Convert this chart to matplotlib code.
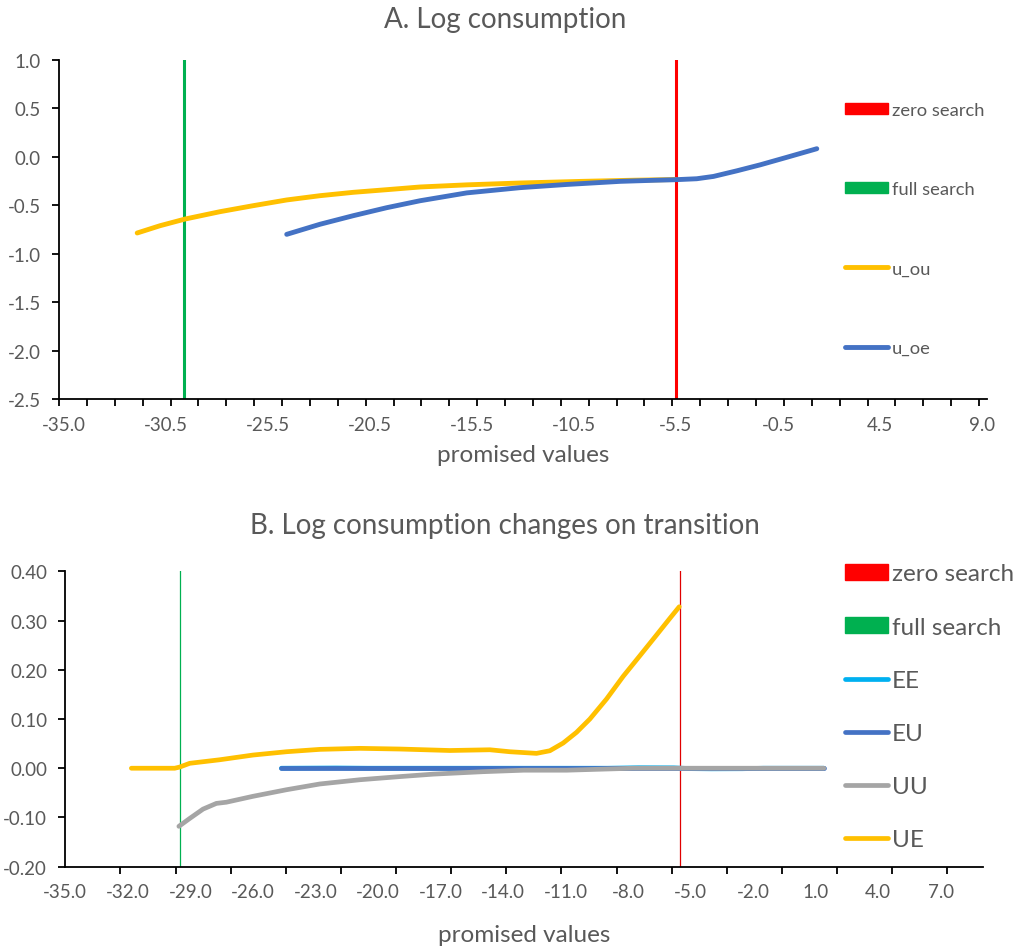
import numpy as np
import matplotlib.pyplot as plt
from matplotlib.patches import Patch
from matplotlib.lines import Line2D

plt.rcParams['font.family'] = ['Lato', 'DejaVu Sans']
plt.rcParams['axes.unicode_minus'] = False

# ---- panel A data ----
ou_x = [-31.26, -30.17, -28.97, -27.30, -25.71, -24.11, -22.52, -20.92, -19.33, -17.73,
        -15.5, -12.95, -10.0, -7.5, -5.5]
ou_y = [-0.786, -0.711, -0.642, -0.566, -0.504, -0.445, -0.401, -0.366, -0.339, -0.311,
        -0.289, -0.270, -0.253, -0.241, -0.234]
oe_x = [-24.11, -22.52, -20.92, -19.33, -17.73, -15.5, -12.95, -10.72, -8.17, -6.57,
        -5.54, -4.50, -3.70, -2.58, -1.46, -0.20, 1.24]
oe_y = [-0.800, -0.696, -0.607, -0.525, -0.453, -0.372, -0.318, -0.285, -0.253, -0.242,
        -0.236, -0.226, -0.202, -0.144, -0.082, -0.005, 0.084]
zero_a = -5.5
full_a = -29.0

# ---- panel B data ----
ue_x = [-31.83, -29.75, -29.51, -29.03, -27.59, -25.99, -24.39, -22.79, -20.87, -18.95,
        -16.55, -14.63, -13.67, -12.39, -11.75, -11.11, -10.47, -9.83, -9.03, -8.23,
        -7.43, -6.63, -5.99, -5.54]
ue_y = [0.0, 0.0, 0.0024, 0.010, 0.0172, 0.0268, 0.0335, 0.0383, 0.0404, 0.039,
        0.036, 0.0375, 0.0335, 0.0302, 0.0355, 0.0512, 0.0729, 0.0999, 0.1406, 0.1867,
        0.2285, 0.2706, 0.3045, 0.328]
uu_x = [-29.55, -29.03, -28.39, -27.75, -27.27, -25.99, -24.39, -22.79, -20.87, -18.95,
        -17.35, -14.95, -13.0, -10.95, -7.75, 1.4]
uu_y = [-0.118, -0.102, -0.083, -0.0714, -0.069, -0.057, -0.0437, -0.032, -0.0234, -0.017,
        -0.012, -0.007, -0.004, -0.004, 0.0, 0.0]
eu_x = [-24.63, -14.0, -8.0, 1.4]
eu_y = [0.0, 0.0, 0.0, 0.0]
ee_x = [-24.63, -22.0, -20.5, -15.0, -9.0, -7.5, -5.8, -5.0, -4.0, -2.5, -1.5, 1.4]
ee_y = [0.0, 0.0005, 0.0, 0.0, 0.0, 0.001, 0.0008, -0.0008, -0.0012, -0.001, 0.0, 0.0]
zero_b = -5.5
full_b = -29.5

a_labels = ['-35.0', '-30.5', '-25.5', '-20.5', '-15.5', '-10.5', '-5.5', '-0.5', '4.5', '9.0']
b_labels = ['%.1f' % v for v in np.arange(-35, 8, 3)]

YEL = '#FFC000'
BLU = '#4472C4'
GRY = '#A5A5A5'
LBL = '#00B0F0'
RED = '#FF0000'
GRN = '#00B050'
TXT = '#595959'

W, H = 1020, 953
fig = plt.figure(figsize=(W / 100, H / 100), dpi=100)


def style(ax):
    for s in ['top', 'right']:
        ax.spines[s].set_visible(False)
    for s in ['left', 'bottom']:
        ax.spines[s].set_color('black')
        ax.spines[s].set_linewidth(1.3)
    ax.tick_params(axis='both', colors=TXT, labelsize=13.5)
    ax.tick_params(axis='x', which='major', length=0, pad=12)
    ax.tick_params(axis='x', which='minor', length=5, width=1.3, color='black')
    ax.tick_params(axis='y', length=5, width=1.3, color='black', pad=8)


# ---------------- A ----------------
axA = fig.add_axes([59 / W, 1 - 400 / H, (987 - 59) / W, (400 - 61) / H])
axA.axvline(zero_a, color=RED, lw=2.2, zorder=1)
axA.axvline(full_a, color=GRN, lw=2.2, zorder=1)
axA.plot(ou_x, ou_y, color=YEL, lw=3.5, solid_capstyle='round', solid_joinstyle='round', zorder=3)
axA.plot(oe_x, oe_y, color=BLU, lw=3.5, solid_capstyle='round', solid_joinstyle='round', zorder=4)
axA.set_xlim(-35, 9.38)
axA.set_ylim(-2.5, 1.0)
axA.set_yticks(np.arange(-2.5, 1.01, 0.5))
axA.set_yticklabels(['%.1f' % v for v in np.arange(-2.5, 1.01, 0.5)])
axA.set_xticks(np.linspace(-34.76, 9.14, 10))
axA.set_xticklabels(a_labels)
axA.set_xticks(np.linspace(-35, 9, 34), minor=True)
style(axA)
axA.set_xlabel('promised values', fontsize=17.5, color=TXT, labelpad=8)

hA = [Patch(color=RED), Patch(color=GRN),
      Line2D([], [], color=YEL, lw=3.5, solid_capstyle='round'),
      Line2D([], [], color=BLU, lw=3.5, solid_capstyle='round')]
legA = axA.legend(hA, ['zero search', 'full search', 'u_ou', 'u_oe'],
                  loc='upper left', bbox_to_anchor=(845 / W, 1 - 103 / H),
                  bbox_transform=fig.transFigure, frameon=False, fontsize=13.2,
                  handlelength=2.35, handleheight=0.58, handletextpad=0.22,
                  labelspacing=3.45, borderpad=0, borderaxespad=0)
for t in legA.get_texts():
    t.set_color(TXT)

fig.text(505 / W, 1 - 20 / H, 'A. Log consumption', ha='center', va='center',
         fontsize=20, color=TXT)

# ---------------- B ----------------
axB = fig.add_axes([65.3 / W, 1 - 867.7 / H, (982.7 - 65.3) / W, (867.7 - 572.3) / H])
axB.axvline(zero_b, color='#E00000', lw=0.9, zorder=1)
axB.axvline(full_b, color=GRN, lw=0.9, zorder=1)
axB.plot(ee_x, ee_y, color=LBL, lw=3.4, solid_capstyle='round', zorder=2)
axB.plot(eu_x, eu_y, color=BLU, lw=3.4, solid_capstyle='round', zorder=3)
axB.plot(uu_x, uu_y, color=GRY, lw=3.4, solid_capstyle='round', solid_joinstyle='round', zorder=4)
axB.plot(ue_x, ue_y, color=YEL, lw=3.4, solid_capstyle='round', solid_joinstyle='round', zorder=5)
axB.set_xlim(-35, 9.02)
axB.set_ylim(-0.2, 0.4)
axB.set_yticks(np.arange(-0.2, 0.41, 0.1))
axB.set_yticklabels(['%.2f' % v for v in np.arange(-0.2, 0.41, 0.1)])
axB.set_xticks(np.arange(-35, 8, 3))
axB.set_xticklabels(b_labels)
axB.set_xticks(-35 + np.arange(17) * 2.645, minor=True)
style(axB)
axB.set_xlabel('promised values', fontsize=17.5, color=TXT, labelpad=17)

hB = [Patch(color=RED), Patch(color=GRN),
      Line2D([], [], color=LBL, lw=3.4, solid_capstyle='round'),
      Line2D([], [], color=BLU, lw=3.4, solid_capstyle='round'),
      Line2D([], [], color=GRY, lw=3.4, solid_capstyle='round'),
      Line2D([], [], color=YEL, lw=3.4, solid_capstyle='round')]
legB = axB.legend(hB, ['zero search', 'full search', 'EE', 'EU', 'UU', 'UE'],
                  loc='upper left', bbox_to_anchor=(845 / W, 1 - 564.5 / H),
                  bbox_transform=fig.transFigure, frameon=False, fontsize=17.5,
                  handlelength=1.77, handleheight=0.6, handletextpad=0.17,
                  labelspacing=1.32, borderpad=0, borderaxespad=0)
for t in legB.get_texts():
    t.set_color(TXT)

fig.text(505 / W, 1 - 526 / H, 'B. Log consumption changes on transition', ha='center',
         va='center', fontsize=20, color=TXT)

fig.savefig('out.png', dpi=100)
